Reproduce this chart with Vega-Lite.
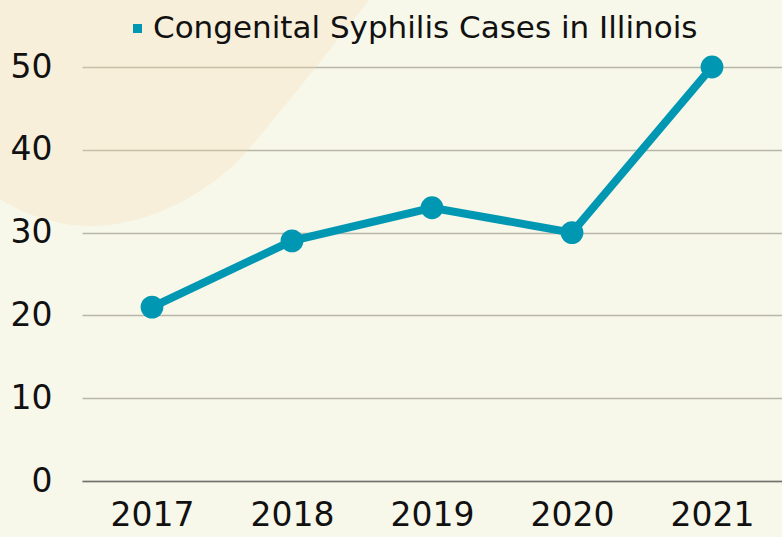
{
  "$schema": "https://vega.github.io/schema/vega-lite/v6.json",
  "width": 700,
  "height": 414,
  "autosize": {"type": "none"},
  "padding": {"left": 82, "top": 67, "right": 0, "bottom": 56},
  "background": "#f7f7ea",
  "config": {
    "view": {"stroke": null},
    "font": "DejaVu Sans"
  },
  "data": {
    "values": [
      {"year": "2017", "cases": 21, "series": "Congenital Syphilis Cases in Illinois"},
      {"year": "2018", "cases": 29, "series": "Congenital Syphilis Cases in Illinois"},
      {"year": "2019", "cases": 33, "series": "Congenital Syphilis Cases in Illinois"},
      {"year": "2020", "cases": 30, "series": "Congenital Syphilis Cases in Illinois"},
      {"year": "2021", "cases": 50, "series": "Congenital Syphilis Cases in Illinois"}
    ]
  },
  "encoding": {
    "x": {
      "field": "year", "type": "ordinal",
      "scale": {"type": "point", "padding": 0.5},
      "axis": {
        "title": null, "labelAngle": 0, "ticks": false, "grid": false,
        "domain": true, "domainColor": "#707070", "domainWidth": 1.5,
        "labelFontSize": 33, "labelColor": "#111111", "labelPadding": 18
      }
    }
  },
  "layer": [
    {
      "data": {"values": [{"year": "2017", "cases": 50}]},
      "mark": {
        "type": "point", "filled": true, "opacity": 1, "fillOpacity": 0.25,
        "fill": "#f7d7a6", "strokeWidth": 0, "size": 40000,
        "shape": "M2.48,-1.07 C2.24,-0.75 1.29,0.45 0.96,0.83 C0.6,1.245 -0.02,1.59 -0.62,1.59 C-1.07,1.59 -1.52,1.38 -1.92,1.03 L-2.12,-1.27 Z"
      },
      "encoding": {
        "y": {
          "field": "cases", "type": "quantitative",
          "scale": {"domain": [0, 50]},
          "axis": {
            "title": null, "orient": "left", "values": [0, 10, 20, 30, 40, 50],
            "ticks": false, "domain": false, "labels": false, "zindex": 0,
            "gridColor": "#b9b7a9", "gridWidth": 1.5
          }
        }
      }
    },
    {
      "mark": {"type": "line", "strokeWidth": 8, "point": {"filled": true, "size": 520, "opacity": 1}},
      "encoding": {
        "y": {
          "field": "cases", "type": "quantitative",
          "scale": {"domain": [0, 50]},
          "axis": {
            "title": null, "orient": "left", "values": [0, 10, 20, 30, 40, 50],
            "ticks": false, "domain": false, "grid": false, "zindex": 1,
            "labelFontSize": 33, "labelColor": "#111111", "labelPadding": 30
          }
        },
        "color": {
          "field": "series", "type": "nominal",
          "scale": {"range": ["#0097b2"]},
          "legend": {
            "title": null, "orient": "none", "legendX": 40, "legendY": -54,
            "symbolType": "square", "symbolSize": 81, "symbolStrokeWidth": 0,
            "symbolFillColor": "#0097b2",
            "labelFontSize": 31, "labelColor": "#111111", "labelOffset": 0, "labelLimit": 800
          }
        }
      }
    }
  ],
  "resolve": {"axis": {"y": "independent"}}
}
